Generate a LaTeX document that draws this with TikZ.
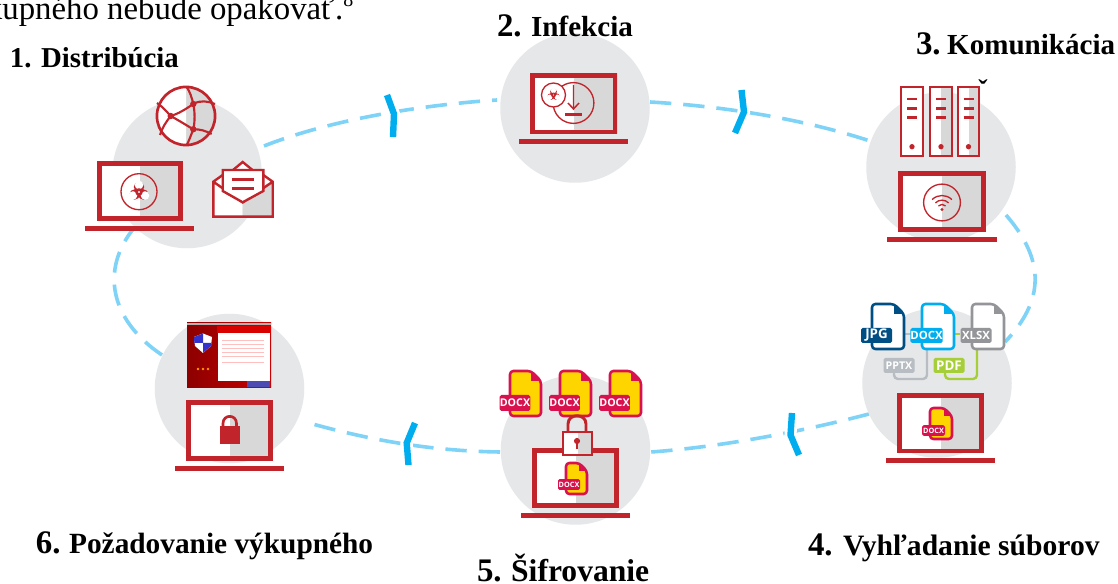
\documentclass[tikz,border=0pt]{standalone}
\usepackage{fontspec}
\setmainfont{Liberation Serif}
\newfontfamily\labelsans{Open Sans}
\definecolor{redm}{HTML}{C2242B}
\definecolor{discc}{HTML}{E6E7E8}
\definecolor{greypart}{HTML}{D8D8D8}
\definecolor{dashc}{HTML}{7FD3F7}
\definecolor{chev}{HTML}{00AEEF}
\definecolor{jpgc}{HTML}{004F84}
\definecolor{docxc}{HTML}{00AEEF}
\definecolor{xlsxc}{HTML}{939598}
\definecolor{pptxc}{HTML}{B7BDC2}
\definecolor{pdfc}{HTML}{A6CE39}
\definecolor{pinkc}{HTML}{D9124F}
\definecolor{yellowc}{HTML}{FFD500}
\tikzset{
  stepdisc/.style={circle,fill=discc,draw=none,minimum size=149.5*0.75pt,inner sep=0pt},
  flow/.style={dashc,line width=2.7pt,dash pattern=on 16pt off 9pt},
  chevron/.style={chev,line width=4.8pt,miter limit=10,preaction={draw=white,line width=9pt}},
  steplab/.style={anchor=base west,inner sep=0pt,outer sep=0pt,font=\bfseries},
  filelab/.style={rounded corners=1.2pt,text=white,inner sep=0pt,align=center},
}
\newcommand\laptopicon[6]{%
  \fill[white] (#1,#2) rectangle ({(#1+#3)/2},#4);
  \fill[greypart] ({(#1+#3)/2},#2) rectangle (#3,#4);
  \draw[redm,line width=3.4pt] ({#1+2.3},{#2+2.3}) rectangle ({#3-2.3},{#4-2.3});
  \fill[redm] (#5,{#4+5}) rectangle (#6,{#4+10});
}
% biohazard sign: centre x, y and size in picture pixels
\newcommand\biohaz[3]{%
  \fill[redm] (#1,{#2-.36*#3}) circle[radius=#3*.28pt]
              ({#1+.31*#3},{#2+.18*#3}) circle[radius=#3*.28pt]
              ({#1-.31*#3},{#2+.18*#3}) circle[radius=#3*.28pt];
  \fill[white] (#1,{#2-.5*#3}) circle[radius=#3*.23pt]
              ({#1+.43*#3},{#2+.25*#3}) circle[radius=#3*.23pt]
              ({#1-.43*#3},{#2+.25*#3}) circle[radius=#3*.23pt];
  \draw[redm,line width=#3*.06pt] (#1,#2) circle[radius=#3*.17pt];
  \fill[white] (#1,#2) circle[radius=#3*.06pt];
}
\newcommand\doc[7]{% x y w h stroke fill fold
  \draw[#5,fill=#6,line width=1.9pt,rounded corners=2.5pt,line join=round]
    (#1,#2) -- ({#1+#3-#7},#2) -- ({#1+#3},{#2+#7}) -- ({#1+#3},{#2+#4}) -- (#1,{#2+#4}) -- cycle;
  \fill[#5] ({#1+#3-#7},{#2}) -- ({#1+#3},{#2+#7}) -- ({#1+#3-#7},{#2+#7}) -- cycle;
}
\begin{document}
\begin{tikzpicture}[x=0.75pt,y=-0.75pt]
\useasboundingbox (0,0) rectangle (1118,584);
\fill[white] (0,0) rectangle (1118,584);
% named connector ends
\coordinate (a1) at (264,146); \coordinate (a2) at (497,100);
\coordinate (b1) at (650,102); \coordinate (b2) at (870,141);
\coordinate (c1) at (1006,215); \coordinate (c2) at (1005,342);
\coordinate (d1) at (869,414); \coordinate (d2) at (651,452);
\coordinate (e1) at (500,452); \coordinate (e2) at (309,423);
\coordinate (f1) at (162,355); \coordinate (f2) at (134,228);
% connectors
\draw[flow] (a1) .. controls (330,120) and (420,105) .. (a2);
\draw[flow] (b1) .. controls (720,106) and (800,118) .. (b2);
\draw[flow] (c1) .. controls (1045,260) and (1045,300) .. (c2);
\draw[flow] (d1) .. controls (800,432) and (720,447) .. (d2);
\draw[flow] (e1) .. controls (430,451) and (370,440) .. (e2);
\draw[flow] (f1) .. controls (110,320) and (100,270) .. (f2);
% discs
\node[stepdisc] (s1) at (187,173.5) {};
\node[stepdisc] (s2) at (575,108) {};
\node[stepdisc] (s3) at (941,167) {};
\node[stepdisc] (s4) at (937,383) {};
\node[stepdisc] (s5) at (575.5,450) {};
\node[stepdisc] (s6) at (229.5,388.5) {};
% chevrons
\draw[chevron] (387,95) -- (394,114) -- (393,137);
\draw[chevron] (741.5,90) -- (744,112) -- (735,133);
\draw[chevron] (792,413) -- (790.5,435) -- (799,455);
\draw[chevron] (415,423) -- (406.7,443) -- (408.5,465);
% ---- 1 distribution
\begin{scope}
  \clip (186,86) rectangle (216,146);
  \fill[greypart] (186,116) circle[radius=22.5pt];
\end{scope}
\begin{scope}
  \clip (156,86) rectangle (186,146);
  \fill[white] (186,116) circle[radius=22.5pt];
\end{scope}
\draw[redm,line width=2pt] (186,116) circle[radius=21.8pt];
\draw[redm,line width=1.6pt]
  (157,103) .. controls (163,107) and (167,112) .. (170.7,116)
  (160,135) .. controls (162,128) and (166,122) .. (170.7,116)
  (170.7,116) .. controls (178,114) and (186,109) .. (193.3,104)
  (170.7,116) .. controls (178,120) and (186,125) .. (193.3,129.3)
  (193.3,104) .. controls (195,112) and (195,122) .. (193.3,129.3)
  (186.7,87) .. controls (190,92) and (192,98) .. (193.3,104)
  (193.3,104) .. controls (200,100) and (208,101) .. (215,104)
  (193.3,129.3) .. controls (191,135) and (189,141) .. (186.7,145)
  (193.3,129.3) .. controls (200,129) and (206,131) .. (211.7,134);
\fill[redm] (170.7,116) circle[radius=2.4pt] (193.3,104) circle[radius=2.4pt] (193.3,129.3) circle[radius=2.4pt];
\laptopicon{97}{161}{183}{221}{85}{194}
\draw[redm,line width=1pt] (139,191.7) circle[radius=13.5pt];
\biohaz{139}{192}{14}
% envelope
\fill[white] (213.3,181.7) -- (242.7,161.7) -- (242.7,216.7) -- (213.3,216.7) -- cycle;
\fill[white] (272.7,181.7) -- (242.7,161.7) -- (242.7,202) -- cycle;
\fill[greypart] (272.7,181.7) -- (242.7,202.3) -- (242.7,216.7) -- (272.7,216.7) -- cycle;
\draw[redm,line width=1.8pt,line join=miter]
  (222.7,175) -- (213.3,181.7) -- (213.3,216.7) -- (272.7,216.7) -- (272.7,181.7) -- (263.3,175)
  (213.3,181.7) -- (242.7,202.3) -- (272.7,181.7)
  (233,170) -- (242.7,162) -- (252.5,170);
\draw[redm,line width=1.8pt,fill=white] (222.7,191) -- (222.7,170) -- (263.3,170) -- (263.3,191) -- (242.7,202.3) -- cycle;
\draw[redm,line width=2pt] (231.7,179.3) -- (254,179.3) (231.7,188.3) -- (254,188.3);
% ---- 2 infection
\laptopicon{530}{73}{617.5}{134.5}{519}{628}
\draw[redm,line width=1pt] (573.5,103) circle[radius=15.3pt];
\draw[redm,line width=1pt,fill=white] (553.5,95) circle[radius=9pt];
\biohaz{553.5}{95}{9}
\draw[redm,line width=1.1pt] (573.5,85) -- (573.5,109) (568,103) -- (573.5,109) -- (579,103);
\draw[redm,line width=1.8pt] (565,114.7) -- (582,114.7);
% ---- 3 communication
\foreach \xa/\xb/\fl in {900/924/white,929/953/greypart,957/980/greypart}{
  \fill[white] (\xa,86) rectangle ({(\xa+\xb)/2},157);
  \fill[\fl] ({(\xa+\xb)/2},86) rectangle (\xb,157);
  \draw[redm,line width=1.8pt] ({\xa+1},87) rectangle ({\xb-1},156);
  \draw[redm,line width=1.9pt] ({(\xa+\xb)/2-5},99) -- ({(\xa+\xb)/2+5},99)
    ({(\xa+\xb)/2-5},108.3) -- ({(\xa+\xb)/2+5},108.3)
    ({(\xa+\xb)/2-5},117.3) -- ({(\xa+\xb)/2+5},117.3);
  \fill[redm] ({(\xa+\xb)/2},146.7) circle[radius=2pt];
}
\laptopicon{898}{171}{986}{232}{887}{997}
\draw[redm,line width=1pt] (942,202.5) circle[radius=13.8pt];
\fill[redm] (942,209.5) circle[radius=1.3pt];
\draw[redm,line width=1pt] (942,209.5) ++(45:3.8pt) arc[start angle=45,end angle=135,radius=3.8pt];
\draw[redm,line width=1pt] (942,209.5) ++(45:7pt) arc[start angle=45,end angle=135,radius=7pt];
\draw[redm,line width=1pt] (942,209.5) ++(45:10.5pt) arc[start angle=45,end angle=135,radius=10.5pt];
\node[inner sep=0pt,font=\bfseries\fontsize{21pt}{21pt}\selectfont] (caron) at (983,90) {ˇ};
% ---- 4 file search
\draw[pptxc,line width=1.8pt,rounded corners=3pt] (927,350) -- (927,379) -- (894,379) -- (894,372);
\draw[pdfc,line width=1.8pt,rounded corners=3pt] (977,350) -- (977,379) -- (945,379) -- (945,372);
\draw[pptxc,line width=1.8pt] (904,334) -- (911,334);
\draw[pdfc,line width=1.8pt] (954,334) -- (960,334);
\doc{872}{304}{32}{45}{jpgc}{white}{10}
\doc{922}{304}{32}{45}{docxc}{white}{10}
\doc{972}{304}{32}{45}{xlsxc}{white}{10}
\node[filelab,fill=jpgc,minimum width=23.25pt,minimum height=11.25pt,font=\labelsans\bfseries\fontsize{10pt}{10pt}\selectfont] (jpg) at (876.5,335.5) {JPG};
\node[filelab,fill=docxc,minimum width=23.25pt,minimum height=11.25pt,font=\labelsans\bfseries\fontsize{8.5pt}{8.5pt}\selectfont] (docx4) at (926.5,335.5) {DOCX};
\node[filelab,fill=xlsxc,minimum width=23.25pt,minimum height=11.25pt,font=\labelsans\bfseries\fontsize{8.5pt}{8.5pt}\selectfont] (xlsx) at (976,335.5) {XLSX};
\node[filelab,fill=pptxc,minimum width=23.25pt,minimum height=11.25pt,font=\labelsans\bfseries\fontsize{8pt}{8pt}\selectfont] (pptx) at (899,365.5) {PPTX};
\node[filelab,fill=pdfc,minimum width=23.25pt,minimum height=11.25pt,font=\labelsans\bfseries\fontsize{10pt}{10pt}\selectfont] (pdf) at (949,365.5) {PDF};
\laptopicon{897}{393}{984}{453.5}{886}{995}
\doc{930}{408}{22}{31}{pinkc}{yellowc}{8}
\node[filelab,fill=pinkc,minimum width=17.25pt,minimum height=8pt,font=\labelsans\bfseries\fontsize{5.5pt}{5.5pt}\selectfont] (docx4b) at (933.5,430.5) {DOCX};
% ---- 5 encryption
\laptopicon{532}{448}{619}{508}{521}{630}
\doc{510}{371}{31}{45}{pinkc}{yellowc}{10}
\doc{560}{371}{31}{45}{pinkc}{yellowc}{10}
\doc{610}{371}{31}{45}{pinkc}{yellowc}{10}
\node[filelab,fill=pinkc,minimum width=23pt,minimum height=12pt,font=\labelsans\bfseries\fontsize{8pt}{8pt}\selectfont] (docx5a) at (515,403) {DOCX};
\node[filelab,fill=pinkc,minimum width=23pt,minimum height=12pt,font=\labelsans\bfseries\fontsize{8pt}{8pt}\selectfont] (docx5b) at (564.5,403) {DOCX};
\node[filelab,fill=pinkc,minimum width=23pt,minimum height=12pt,font=\labelsans\bfseries\fontsize{8pt}{8pt}\selectfont] (docx5c) at (614.5,403) {DOCX};
\draw[redm,line width=2.2pt] (568,431) -- (568,424) .. controls (568,413) and (586,413) .. (586,424) -- (586,431);
\fill[white] (562,431) rectangle (577.5,456);
\fill[greypart] (577.5,431) rectangle (593,456);
\draw[redm,line width=1.7pt] (563,432) rectangle (592,455);
\fill[redm] (577,441) circle[radius=2.3pt];
\draw[redm,line width=1.3pt] (577,441) -- (577,449);
\doc{566}{463}{21}{31}{pinkc}{yellowc}{8}
\node[filelab,fill=pinkc,minimum width=16.5pt,minimum height=8.2pt,font=\labelsans\bfseries\fontsize{5.5pt}{5.5pt}\selectfont] (docx5d) at (569,484.5) {DOCX};
% ---- 6 ransom demand
\laptopicon{186}{400}{273}{461}{175}{284}
\fill[redm] (220,426) rectangle (239.5,444);
\draw[redm,line width=2pt] (223,427) -- (223,423.5) .. controls (223,414) and (236.5,414) .. (236.5,423.5) -- (236.5,427);
% ransom screen
\shade[left color=red!55!black,right color=red!80!black] (187,323) rectangle (271,388);
\fill[gray!60] (187,323) rectangle (271,325);
\fill[red!85!black] (217,326) rectangle (271,333);
\fill[white] (218,333) rectangle (270,381);
\foreach \yy in {340,344,348,352,356,362}{
  \draw[red!25,line width=.6pt] (222,\yy) -- (264,\yy);
}
\fill[blue!40!gray] (247,381.5) rectangle (270,387);
\fill[white] (194,337) -- (203,333.5) -- (212,337) -- (211,346) -- (203,353) -- (195,346) -- cycle;
\fill[blue!60!gray] (203,333.5) -- (194,337) -- (194.4,343) -- (203,343) -- cycle;
\fill[blue!60!gray] (203,343) -- (211.4,343) -- (211,346) -- (203,353) -- cycle;
\foreach \xx in {198,203,208}{\fill[orange!80!yellow] (\xx,369) circle[radius=1pt];}
% labels
\node[steplab,font=\fontsize{24.6pt}{24.6pt}\selectfont] (tophead) at (-14,20) {kupného nebude opakovať.\raisebox{.42em}{\fontsize{15pt}{15pt}\selectfont 8}};
\node[steplab] (l1) at (10,68) {\fontsize{21.6pt}{21.6pt}\selectfont 1. Distribúcia};
\node[steplab] (l2) at (497,37) {{\fontsize{24.7pt}{24.7pt}\selectfont 2.} \hspace{3.75pt}\fontsize{21.8pt}{21.8pt}\selectfont Infekcia};
\node[steplab] (l3) at (916,55) {{\fontsize{24.7pt}{24.7pt}\selectfont 3.} \hspace{1.5pt}\fontsize{21.8pt}{21.8pt}\selectfont Komunikácia};
\node[steplab] (l4) at (808,556) {{\fontsize{24.7pt}{24.7pt}\selectfont 4.} \hspace{4.5pt}\fontsize{22.2pt}{22.2pt}\selectfont Vyhľadanie súborov};
\node[steplab] (l5) at (477,581) {{\fontsize{24.7pt}{24.7pt}\selectfont 5.} \hspace{3.75pt}\fontsize{23.7pt}{23.7pt}\selectfont Šifrovanie};
\node[steplab] (l6) at (36,553) {{\fontsize{24.7pt}{24.7pt}\selectfont 6.} \hspace{3pt}\fontsize{22pt}{22pt}\selectfont Požadovanie výkupného};
\end{tikzpicture}
\end{document}
